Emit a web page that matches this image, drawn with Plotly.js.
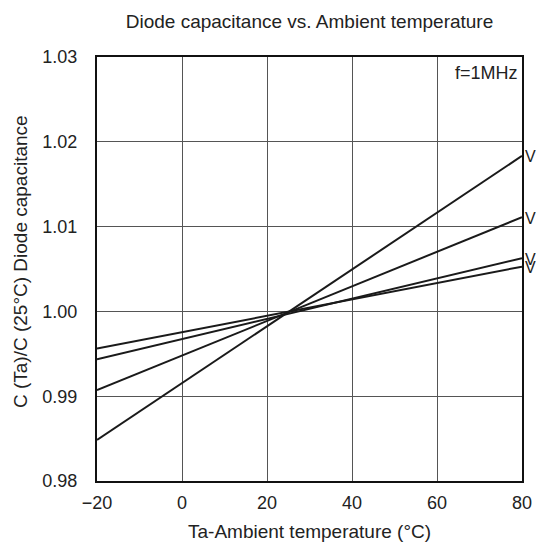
<!DOCTYPE html>
<html><head><meta charset="utf-8">
<script src="https://cdn.plot.ly/plotly-3.0.1.min.js"></script>
<style>body{margin:0;background:#fff}#c{width:536px;height:548px}</style>
</head><body><div id="c"></div>
<script>
const temps = [-20, 80];
const seriesA = [0.98485, 1.01834];
const seriesB = [0.99071, 1.01111];
const seriesC = [0.99436, 1.00627];
const seriesD = [0.99561, 1.00528];
const seriesNames = ['V', 'V', 'V', 'V'];
const xTicks = [-20, 0, 20, 40, 60, 80];
const xTickText = ['\u221220', '0', '20', '40', '60', '80'];
const yTicks = [0.98, 0.99, 1.00, 1.01, 1.02, 1.03];
const yTickText = ['0.98', '0.99', '1.00', '1.01', '1.02', '1.03'];

const all = [seriesA, seriesB, seriesC, seriesD];
const font = 'Liberation Sans, Arial, sans-serif';
const col = '#222';
const traces = all.map((s, i) => ({
  x: temps, y: s, type: 'scatter', mode: 'lines',
  line: {color: '#1a1a1a', width: 2}, name: seriesNames[i], showlegend: false,
  hoverinfo: 'skip'
}));
const annotations = all.map((s, i) => ({
  x: temps[1], y: s[1], xref: 'x', yref: 'y', text: seriesNames[i],
  showarrow: false, xanchor: 'left', yanchor: 'middle', xshift: 1, yshift: -1,
  font: {family: font, size: 16, color: col}
}));
annotations.push({
  x: 1, y: 1, xref: 'paper', yref: 'paper', text: 'f=1MHz', showarrow: false,
  xanchor: 'right', yanchor: 'top', xshift: -2, yshift: -4,
  font: {family: font, size: 18, color: col}
});
annotations.push({
  x: -0.181, y: 0.5165, xref: 'paper', yref: 'paper', text: 'C (Ta)/C (25\u00B0C) Diode capacitance',
  showarrow: false, textangle: -90, xanchor: 'center', yanchor: 'middle',
  font: {family: font, size: 19, color: col}
});
annotations.push({
  x: 0.5, y: -0.12, xref: 'paper', yref: 'paper', text: 'Ta-Ambient temperature (\u00B0C)',
  showarrow: false, xanchor: 'center', yanchor: 'middle',
  font: {family: font, size: 19, color: col}
});
Plotly.newPlot('c', traces, {
  width: 536, height: 548,
  margin: {l: 97, r: 14, t: 57, b: 67},
  paper_bgcolor: '#fff', plot_bgcolor: '#fff',
  title: {text: 'Diode capacitance vs. Ambient temperature', xref: 'paper', x: 0.5, xanchor: 'center',
    yref: 'container', y: 1 - 21 / 548, yanchor: 'middle',
    font: {family: font, size: 19, color: col}},
  xaxis: {range: [-20, 80], tickvals: xTicks, ticktext: xTickText, showgrid: true,
    gridcolor: '#555', gridwidth: 1, showline: true, linecolor: '#111', linewidth: 2, mirror: true,
    ticks: '', zeroline: false, tickfont: {family: font, size: 18, color: col}, ticklabelstandoff: 4},
  yaxis: {range: [0.98, 1.03], tickvals: yTicks, ticktext: yTickText, showgrid: true,
    gridcolor: '#555', gridwidth: 1, showline: true, linecolor: '#111', linewidth: 2, mirror: true,
    ticks: '', zeroline: false, tickfont: {family: font, size: 18, color: col}, ticklabelstandoff: 14},
  annotations: annotations
}, {displayModeBar: false, staticPlot: true});
</script></body></html>
